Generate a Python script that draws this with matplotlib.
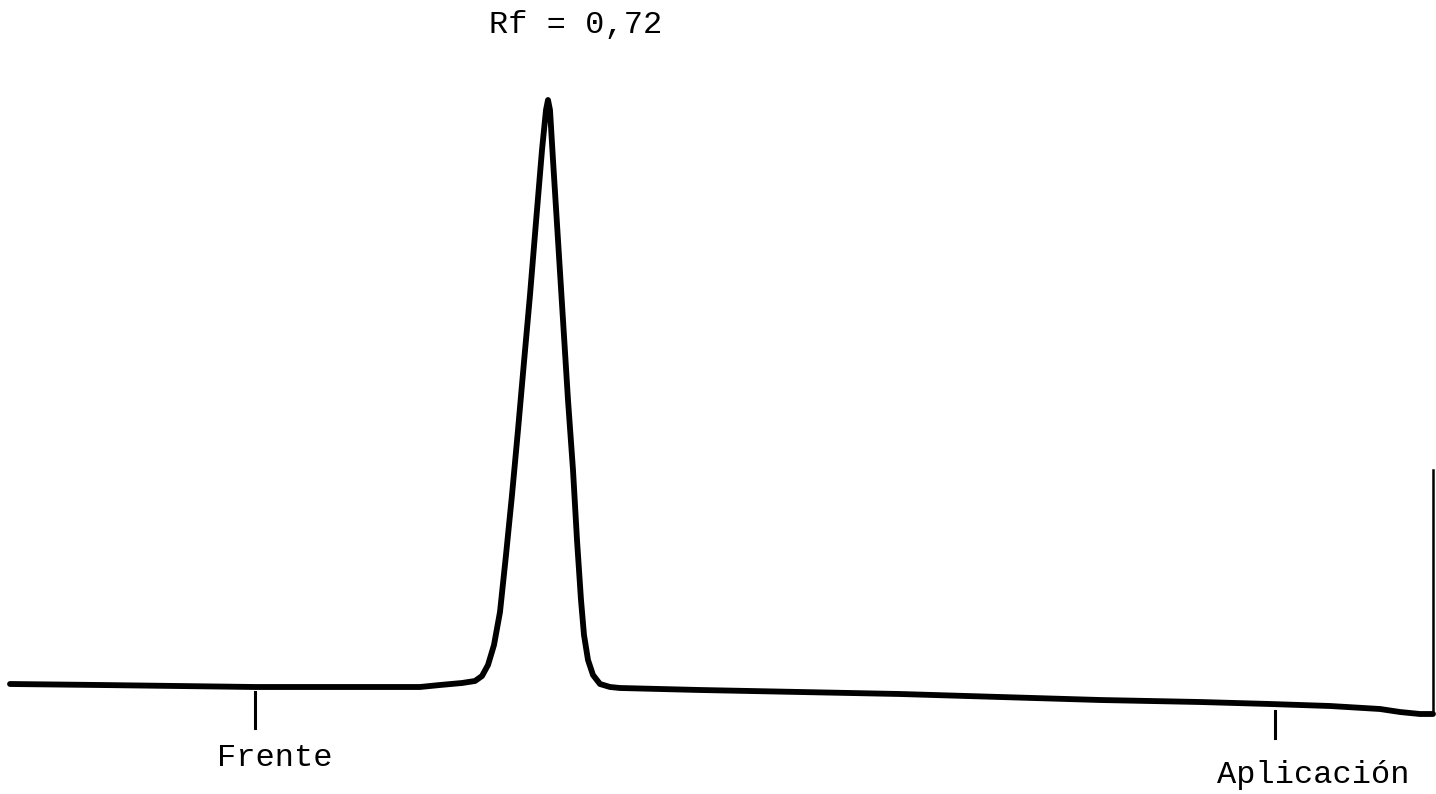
import matplotlib.pyplot as plt

# densitometer trace (recorder units, y grows downward on the chart paper)
trace_x = [10, 100, 255, 420, 440, 462, 475, 482, 488, 494, 500, 506, 512,
           518, 524, 530, 536, 542, 546, 548, 550, 553, 558, 563, 568, 573,
           577, 581, 584, 588, 593, 600, 610, 620, 700, 800, 900, 1000, 1100,
           1200, 1270, 1330, 1380, 1400, 1420, 1433]
trace_y = [684, 685, 687, 687, 685, 683, 681, 676, 665, 645, 612, 555, 495,
           430, 362, 295, 222, 150, 110, 100, 110, 160, 240, 320, 400, 470,
           540, 600, 635, 660, 675, 684, 687, 688, 690, 692, 694, 697, 700,
           702, 704, 706, 709, 712, 714, 714]

# pen return at the end of the run
end_x = [1433, 1433]
end_y = [714, 470]

# marks under the baseline
mark_x = [255, 1275]
mark_top = [692, 711]
mark_bottom = [728, 738]
mark_labels = ["Frente", "Aplicación"]
label_x = [275, 1313]
label_y = [758, 775]

title = "Rf = 0,72"

fig = plt.figure(figsize=(14.36, 7.94), dpi=100)
ax = fig.add_axes([0, 0, 1, 1])
ax.set_xlim(0, 1436)
ax.set_ylim(794, 0)
ax.axis("off")

ax.plot(trace_x, trace_y, color="black", lw=4.2, solid_capstyle="round",
        solid_joinstyle="round")
ax.plot(end_x, end_y, color="black", lw=1.8)

for x, t, b in zip(mark_x, mark_top, mark_bottom):
    ax.plot([x, x], [t, b], color="black", lw=2.2)

font = "Liberation Mono"
for x, y, s in zip(label_x, label_y, mark_labels):
    ax.text(x, y, s, ha="center", va="center", fontsize=23, family=font)

ax.text(576, 25, title, ha="center", va="center", fontsize=23, family=font)

fig.savefig("out.png", dpi=100)
